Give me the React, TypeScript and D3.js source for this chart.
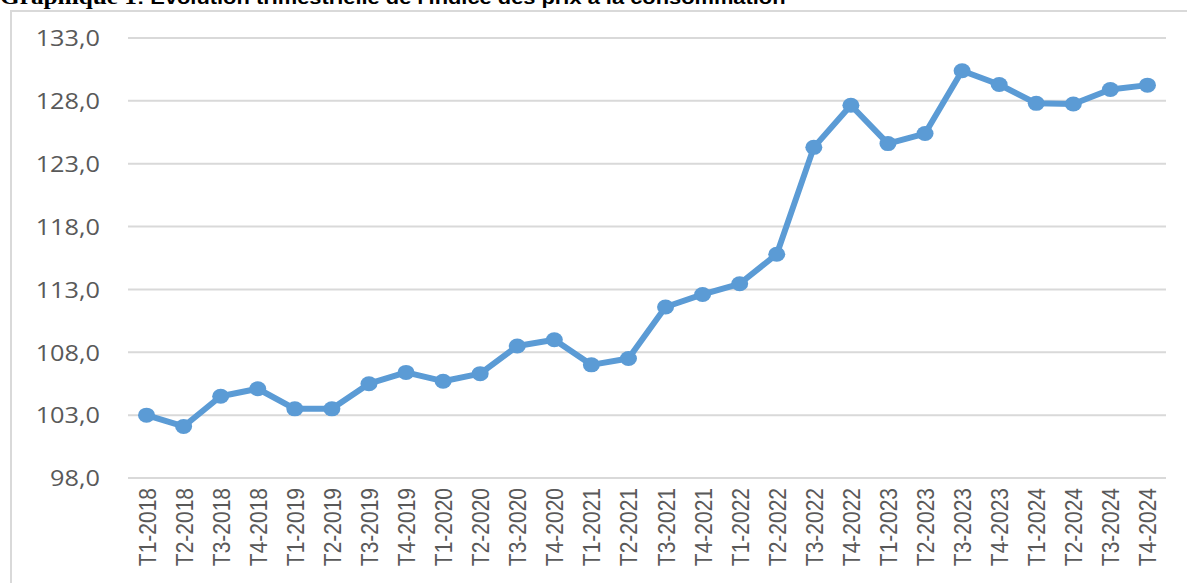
import * as d3 from 'd3';

const WIDTH = 1187;
const HEIGHT = 583;
const MARGIN = { top: 38, right: 21, bottom: 105, left: 128 };
// the source picture is stretched a little horizontally
const STRETCH = 1.15;

const quarters = [
    'T1-2018', 'T2-2018', 'T3-2018', 'T4-2018',
    'T1-2019', 'T2-2019', 'T3-2019', 'T4-2019',
    'T1-2020', 'T2-2020', 'T3-2020', 'T4-2020',
    'T1-2021', 'T2-2021', 'T3-2021', 'T4-2021',
    'T1-2022', 'T2-2022', 'T3-2022', 'T4-2022',
    'T1-2023', 'T2-2023', 'T3-2023', 'T4-2023',
    'T1-2024', 'T2-2024', 'T3-2024', 'T4-2024',
];

const ipc = [
    103.0, 102.1, 104.5, 105.1,
    103.5, 103.5, 105.5, 106.4,
    105.7, 106.3, 108.5, 109.0,
    107.0, 107.5, 111.6, 112.6,
    113.45, 115.8, 124.3, 127.65,
    124.6, 125.4, 130.4, 129.3,
    127.8, 127.75, 128.9, 129.25,
];

const yTicks = [98, 103, 108, 113, 118, 123, 128, 133];

const LINE_COLOR = '#5B9BD5';
const TEXT_COLOR = '#595959';
const GRID_COLOR = '#d9d9d9';

export default function App() {
    const boundsWidth = WIDTH - MARGIN.left - MARGIN.right;
    const boundsHeight = HEIGHT - MARGIN.top - MARGIN.bottom;

    const xScale = d3.scaleBand().domain(quarters).range([0, boundsWidth]);
    const yScale = d3.scaleLinear().domain([98, 133]).range([boundsHeight, 0]);

    const cx = (q: string) => (xScale(q) ?? 0) + xScale.bandwidth() / 2;

    const line = d3
        .line<number>()
        .x((_, i) => cx(quarters[i]))
        .y((d) => yScale(d));

    const fmt = (v: number) => v.toFixed(1).replace('.', ',');

    return (
        <svg
            width={WIDTH}
            height={HEIGHT}
            style={{ position: 'absolute', left: 0, top: 0, background: '#fff' }}
        >
            {/* title, cut by the top of the page like in the source */}
            <text transform={`translate(0,4) scale(${STRETCH},1)`} fontWeight="bold" fill="#000">
                <tspan fontFamily="Liberation Serif" fontSize={22}>Graphique 1</tspan>
                <tspan fontFamily="Liberation Sans" fontSize={19}>
                    : Evolution trimestrielle de l'indice des prix à la consommation
                </tspan>
            </text>

            {/* chart frame */}
            <rect x={11} y={11} width={WIDTH} height={HEIGHT} fill="none" stroke={GRID_COLOR} strokeWidth={2} />

            <g transform={`translate(${MARGIN.left},${MARGIN.top})`}>
                {yTicks.map((t) => (
                    <g key={t}>
                        <line
                            x1={0}
                            x2={boundsWidth}
                            y1={yScale(t)}
                            y2={yScale(t)}
                            stroke={GRID_COLOR}
                            strokeWidth={2}
                        />
                        <text
                            transform={`translate(-28,${yScale(t)}) scale(${STRETCH},1)`}
                            dominantBaseline="central"
                            textAnchor="end"
                            fontFamily="Open Sans"
                            fontSize={22}
                            fill={TEXT_COLOR}
                        >
                            {fmt(t)}
                        </text>
                    </g>
                ))}

                {quarters.map((q) => (
                    <text
                        key={q}
                        transform={`translate(${cx(q) + 1},${boundsHeight + 10}) scale(${STRETCH},1) rotate(-90)`}
                        textAnchor="end"
                        dominantBaseline="central"
                        fontFamily="Liberation Sans"
                        fontSize={21}
                        fill={TEXT_COLOR}
                    >
                        {q}
                    </text>
                ))}

                <path
                    d={line(ipc) ?? ''}
                    fill="none"
                    stroke={LINE_COLOR}
                    strokeWidth={6}
                    strokeLinejoin="round"
                />
                {ipc.map((v, i) => (
                    <ellipse key={i} cx={cx(quarters[i])} cy={yScale(v)} rx={8.5} ry={7.5} fill={LINE_COLOR} />
                ))}
            </g>
        </svg>
    );
}
